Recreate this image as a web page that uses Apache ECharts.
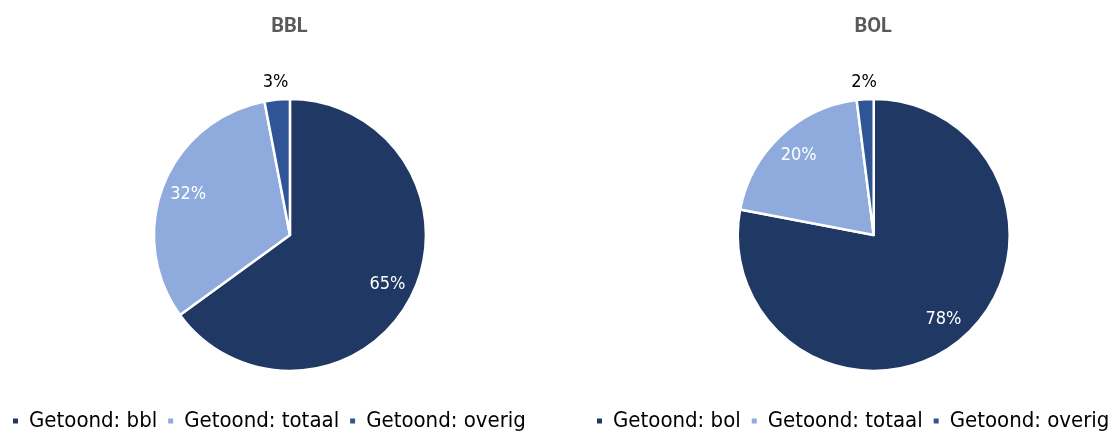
<!DOCTYPE html>
<html>
<head>
<meta charset="utf-8">
<script src="https://cdn.jsdelivr.net/npm/echarts@6/dist/echarts.min.js"></script>
<style>
html,body{margin:0;padding:0;background:#fff;}
#c{width:1113px;height:434px;}
</style>
</head>
<body>
<div id="c"></div>
<script>
var titles = ['BBL', 'BOL'];
var leftNames = ['Getoond: bbl', 'Getoond: totaal', 'Getoond: overig'];
var rightNames = ['Getoond: bol', 'Getoond: totaal', 'Getoond: overig'];
var leftValues = [65, 32, 3];
var rightValues = [78, 20, 2];
var colors = ['#203864', '#8FAADC', '#2F5597'];

var FONT = '"DejaVu Sans Condensed", "DejaVu Sans", sans-serif';
var centers = [['26.05%', 235], ['78.5%', 235]];
var R = 136;

function mk(names, values) {
  return names.map(function (n, i) {
    return { name: n, value: values[i], itemStyle: { color: colors[i] } };
  });
}

function mainSeries(names, values, center) {
  return {
    type: 'pie',
    center: center,
    radius: [0, R],
    startAngle: 90,
    clockwise: true,
    silent: true,
    label: { show: false },
    labelLine: { show: false },
    itemStyle: { borderColor: '#fff', borderWidth: 2.5 },
    data: mk(names, values)
  };
}

function labelSeries(names, values, center, outer) {
  var d = names.map(function (n, i) {
    var small = values[i] < 5;
    return {
      name: n, value: values[i],
      itemStyle: { color: 'rgba(0,0,0,0)' },
      label: { show: outer ? small : !small }
    };
  });
  return {
    type: 'pie',
    center: center,
    radius: outer ? [R, R + 28] : [77, R],
    startAngle: 90,
    clockwise: true,
    silent: true,
    legendHoverLink: false,
    label: {
      position: 'inside',
      formatter: '{c}%',
      color: outer ? '#000' : '#fff',
      fontFamily: FONT,
      fontSize: 18
    },
    labelLine: { show: false },
    itemStyle: { borderWidth: 0 },
    data: d
  };
}

var chart = echarts.init(document.getElementById('c'), null, { renderer: 'canvas' });
var legendCommon = {
  orient: 'horizontal',
  top: 410,
  itemWidth: 7,
  itemHeight: 7,
  itemGap: 9,
  icon: 'rect',
  textStyle: { fontFamily: FONT, fontSize: 22, color: '#000', padding: [0, 0, 0, 5] },
  padding: 0
};
var titleStyle = { fontFamily: 'Roboto, sans-serif', fontWeight: 'bold', fontSize: 20, color: '#595959' };
chart.setOption({
  animation: false,
  title: [
    { text: titles[0], left: '26%', top: 17, padding: 0, textAlign: 'center', textStyle: titleStyle },
    { text: titles[1], left: '78.45%', top: 17, padding: 0, textAlign: 'center', textStyle: titleStyle }
  ],
  legend: [
    Object.assign({}, legendCommon, { left: 11, data: leftNames }),
    Object.assign({}, legendCommon, { left: 595, data: rightNames })
  ],
  series: [
    mainSeries(leftNames, leftValues, centers[0]),
    mainSeries(rightNames, rightValues, centers[1]),
    labelSeries(leftNames, leftValues, centers[0], false),
    labelSeries(leftNames, leftValues, centers[0], true),
    labelSeries(rightNames, rightValues, centers[1], false),
    labelSeries(rightNames, rightValues, centers[1], true)
  ]
});
</script>
</body>
</html>
